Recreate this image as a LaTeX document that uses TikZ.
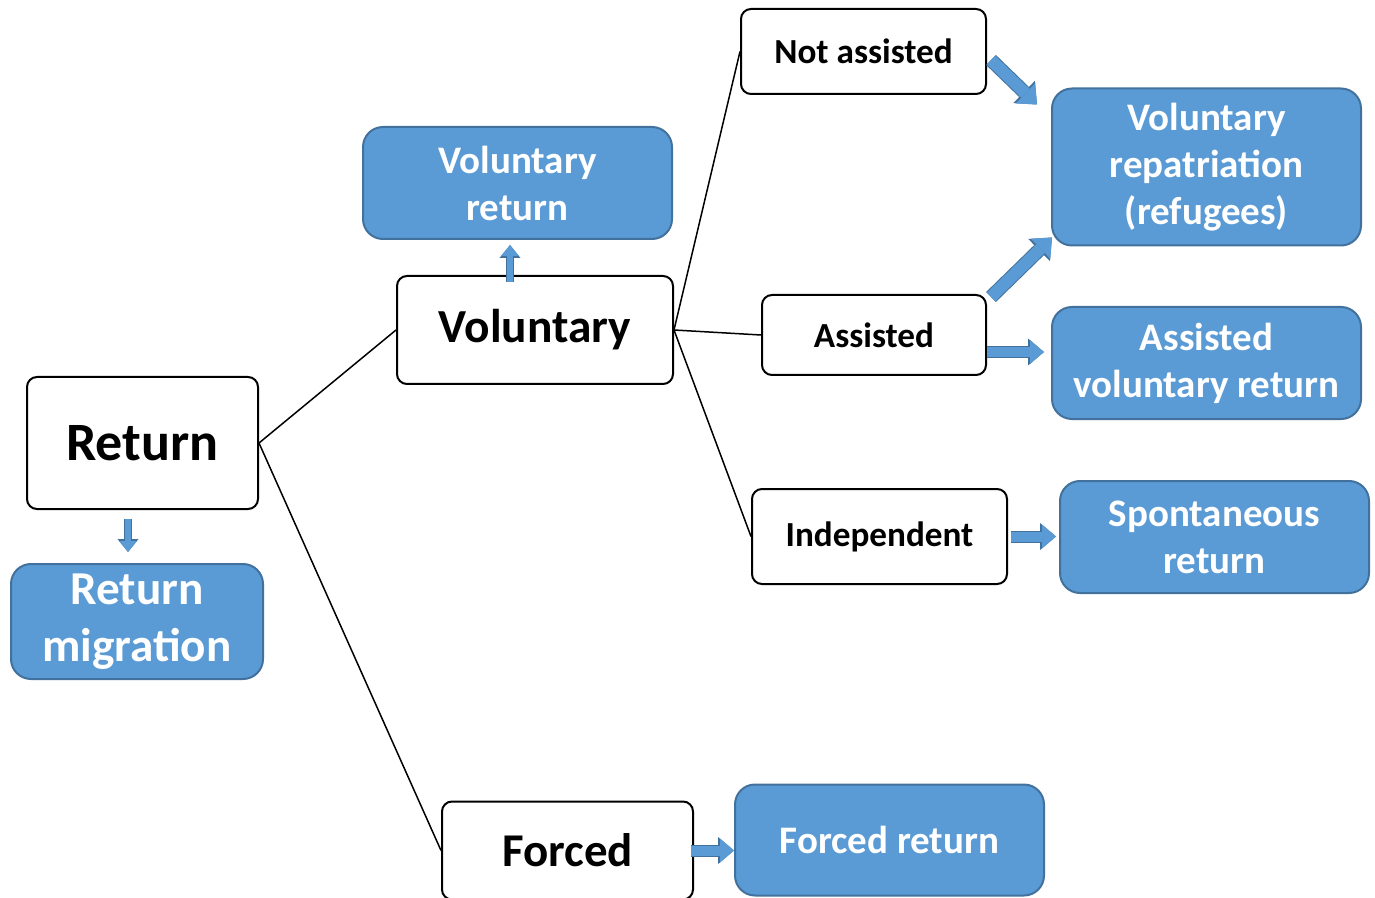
\documentclass[tikz,border=0pt]{standalone}
\usepackage{fontspec}
\setmainfont{Carlito}
\usepackage{tikz}
\usetikzlibrary{arrows.meta}
\definecolor{boxblue}{HTML}{5B9BD5}
\definecolor{edgeblue}{HTML}{41719C}

\begin{document}
\begin{tikzpicture}[x=0.5pt,y=-0.5pt,semithick,
    font=\bfseries,
    plain/.style={draw=black,line width=1pt,fill=white,rounded corners=5pt,
                  text=black,align=center,inner sep=0pt},
    result/.style={draw=edgeblue,line width=1pt,fill=boxblue,rounded corners=10pt,
                   text=white,align=center,inner sep=0pt,
                   font=\bfseries\fontsize{19.5}{23.5}\selectfont},
    blk/.style={draw=boxblue,line width=5pt,
                -{Triangle[length=7pt,width=12pt,line width=0pt]},
                preaction={draw=edgeblue,line width=6pt,
                           -{Triangle[length=8pt,width=13.5pt,line width=0pt]}}},
    blkthin/.style={draw=boxblue,line width=3pt,
                -{Triangle[length=5.5pt,width=9pt,line width=0pt]},
                preaction={draw=edgeblue,line width=4pt,
                           -{Triangle[length=6.5pt,width=10.5pt,line width=0pt]}}},
    blkwide/.style={draw=boxblue,line width=6pt,
                -{Triangle[length=8pt,width=14pt,line width=0pt]},
                preaction={draw=edgeblue,line width=7pt,
                           -{Triangle[length=9pt,width=15.5pt,line width=0pt]}}}]
\useasboundingbox (0,0) rectangle (1375,898);

% white boxes
\node[plain,minimum width=115.5pt,minimum height=66pt,font=\bfseries\fontsize{27}{32}\selectfont]
  (ret) at (142.5,443) {Return};
\node[plain,minimum width=138pt,minimum height=54pt,font=\bfseries\fontsize{23.7}{28}\selectfont]
  (vol) at (535,330) {Voluntary};
\node[plain,minimum width=125.5pt,minimum height=49pt,font=\bfseries\fontsize{23.5}{28}\selectfont]
  (forced) at (567.5,850.5) {Forced};
\node[plain,minimum width=122.5pt,minimum height=42.5pt,font=\bfseries\fontsize{17.6}{21}\selectfont]
  (notass) at (863.5,51.5) {Not assisted};
\node[plain,minimum width=112pt,minimum height=40pt,font=\bfseries\fontsize{17.6}{21}\selectfont]
  (ass) at (874,335) {Assisted};
\node[plain,minimum width=127.5pt,minimum height=47.5pt,font=\bfseries\fontsize{17.6}{21}\selectfont]
  (indep) at (879.5,536.5) {Independent};

% blue boxes
\node[result,minimum width=126pt,minimum height=57.5pt,font=\bfseries\fontsize{23.6}{28.5}\selectfont]
  (retmig) at (137,621.5) {Return\\migration};
\node[result,minimum width=154.5pt,minimum height=56pt]
  (volret) at (517.5,183) {Voluntary\\return};
\node[result,minimum width=154.5pt,minimum height=78.5pt]
  (volrep) at (1206.5,167) {Voluntary\\repatriation\\(refugees)};
\node[result,minimum width=154.5pt,minimum height=56pt]
  (assvol) at (1206.5,363) {Assisted\\voluntary return};
\node[result,minimum width=154.5pt,minimum height=56pt]
  (spont) at (1214.5,537) {Spontaneous\\return};
\node[result,minimum width=154.5pt,minimum height=55.5pt]
  (forcedret) at (889.5,840) {Forced return};

% tree lines
\path[draw=black,line width=0.75pt]
      (ret.east) edge (vol.west)
                 edge (forced.west)
      (vol.east) edge (notass.west)
                 edge (ass.west)
                 edge (indep.west);

% block arrows
\draw[blkthin] ([shift={(-7.25pt,-4.5pt)}]ret.south) -- ([shift={(-7.25pt,5.5pt)}]ret.south |- retmig.north);
\draw[blkthin] ([shift={(-12.5pt,-3.5pt)}]vol.north) -- ([shift={(-12.5pt,-2.5pt)}]vol.north |- volret.south);
\draw[blkwide] ([shift={(2pt,-4.25pt)}]notass.east) -- ([shift={(-7pt,-8.5pt)}]volrep.north west);
\draw[blkwide] ([shift={(2pt,-1.5pt)}]ass.north east) -- ([shift={(0.5pt,4.5pt)}]volrep.south west);
\draw[blk,shorten >=3.5pt] ([yshift=-8.5pt]ass.east) -- ([yshift=-8.5pt]ass.east -| assvol.west);
\draw[blk,shorten <=1.5pt,shorten >=1.5pt] (indep.east) -- (indep.east -| spont.west);
\draw[blk,shorten <=-1.5pt] (forced.east) -- (forced.east -| forcedret.west);
\end{tikzpicture}
\end{document}
